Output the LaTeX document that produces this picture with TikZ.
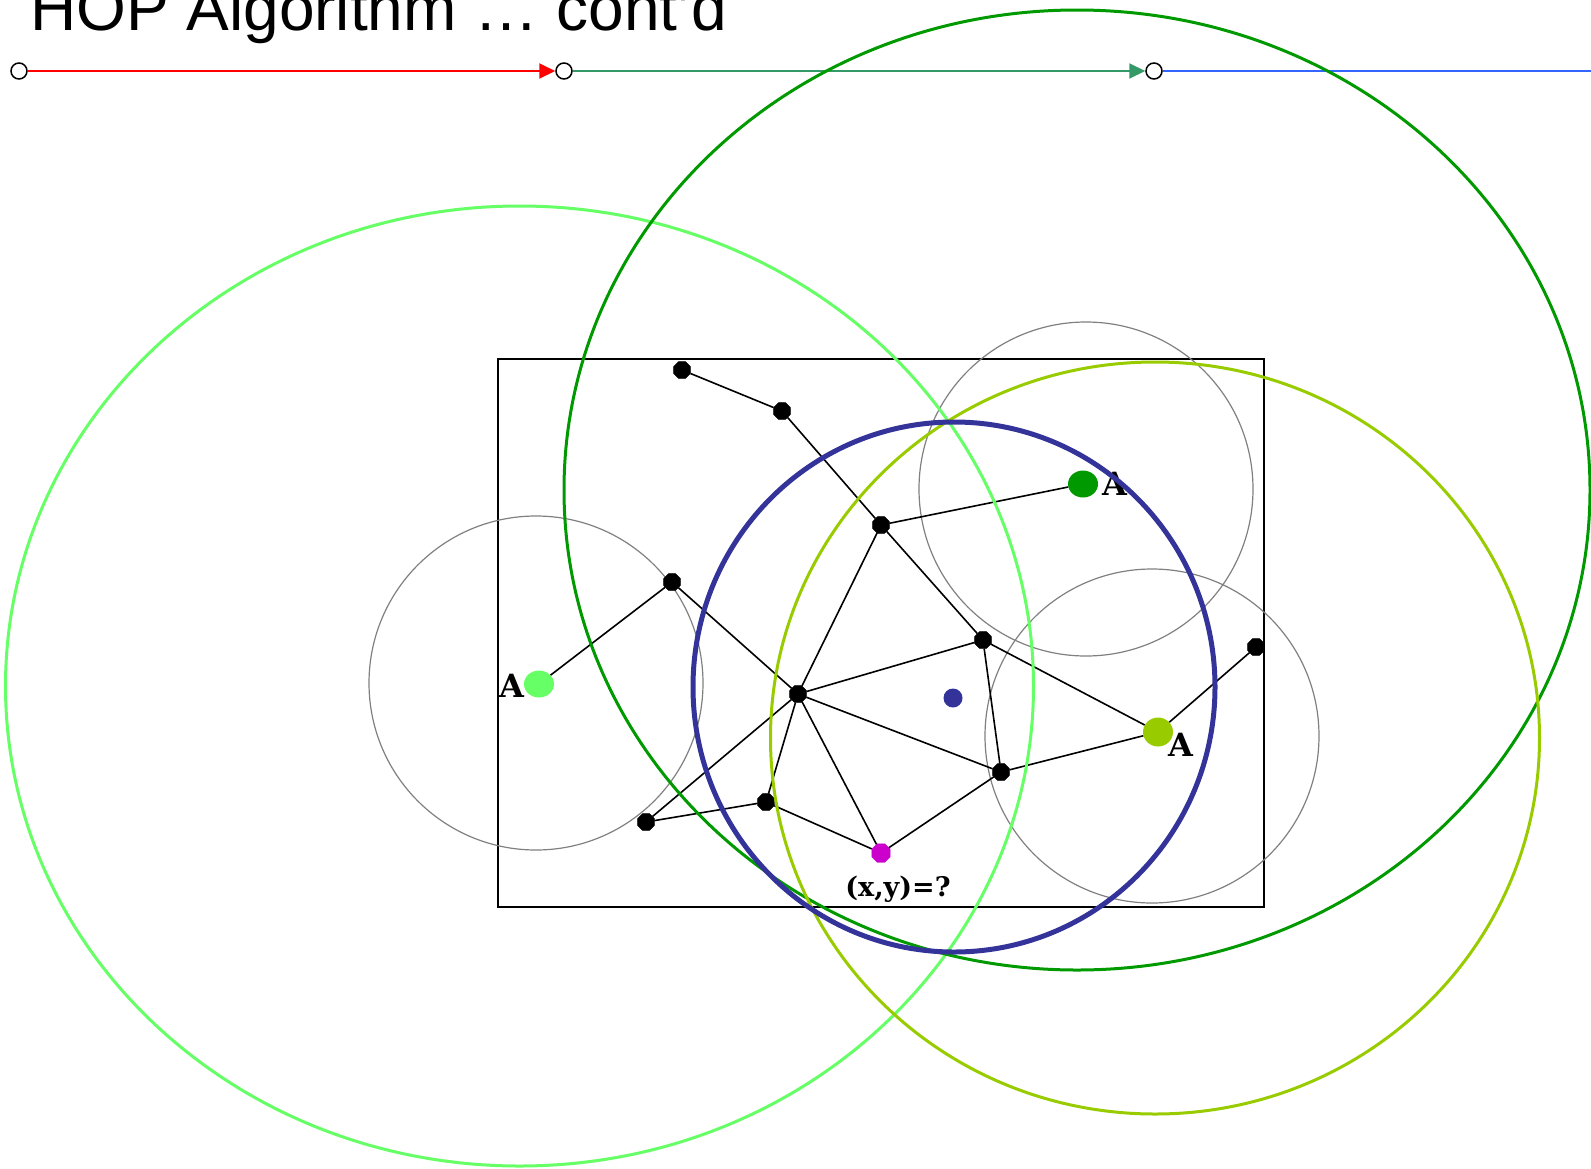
\documentclass[tikz,border=0pt]{standalone}
\usepackage{fontspec}
\setmainfont{Liberation Sans}
\newfontfamily\labelfont{DejaVu Serif}
\usetikzlibrary{arrows.meta,shapes.geometric}
\definecolor{hopred}{RGB}{255, 0, 0}
\definecolor{hopgreen}{RGB}{51, 153, 102}
\definecolor{hopblue}{RGB}{51, 102, 255}
\definecolor{lightgreen}{RGB}{102, 255, 102}
\definecolor{darkgreen}{RGB}{0, 153, 0}
\definecolor{limegreen}{RGB}{153, 204, 0}
\definecolor{navyblue}{RGB}{51, 51, 153}
\definecolor{hopmagenta}{RGB}{204, 0, 204}

\begin{document}
\begin{tikzpicture}[x=1pt, y=-1pt,
    stage/.style={draw, circle, fill=white, line width=1.5pt, minimum size=16pt, inner sep=0pt},
    sensor/.style={draw, fill=black, regular polygon, regular polygon sides=8, minimum size=18pt, inner sep=0pt},
    beacon/.style={ellipse, minimum width=30pt, minimum height=27pt, inner sep=0pt},
    lbl/.style={font=\labelfont\bfseries\fontsize{32pt}{32pt}\selectfont, inner sep=0pt},
    link/.style={line width=1.6pt},
    radioring/.style={draw=gray, line width=1.2pt}]
                    \useasboundingbox (0,0) rectangle (1591,1168);

                    \node[anchor=base west, inner sep=0pt, font=\fontsize{64pt}{64pt}\selectfont] (title) at (30,30.5) {HOP Algorithm … cont'd};

                    % stage line
                    \node[stage] (s1) at (19,71) {};
                    \node[stage] (s2) at (564,71) {};
                    \node[stage] (s3) at (1154,71) {};
                    \coordinate (lineend) at (1591,71);
                    \draw[hopred, line width=2pt, -{Triangle[length=16pt,width=15pt]}] (s1) -- (s2);
                    \draw[hopgreen, line width=2pt, -{Triangle[length=16pt,width=15pt]}] (s2) -- (s3);
                    \draw[hopblue, line width=2pt] (s3) -- (lineend);

                    % field
                    \draw[line width=1.5pt] (498,359) rectangle (1264,907);
                    \draw[radioring] (536,683) circle [radius=167pt];
                    \draw[radioring] (1086,489) circle [radius=167pt];
                    \draw[radioring] (1152,736) circle [radius=167pt];

                    \node[sensor] (n1) at (682,370) {};
                    \node[sensor] (n2) at (782,411) {};
                    \node[sensor] (n3) at (881,525) {};
                    \node[sensor] (n4) at (672,582) {};
                    \node[sensor] (n5) at (983,640) {};
                    \node[sensor] (n6) at (1256,647) {};
                    \node[sensor] (n7) at (798,694) {};
                    \node[sensor] (n8) at (1001,772) {};
                    \node[sensor] (n9) at (766,802) {};
                    \node[sensor] (n10) at (646,822) {};
                    \node[sensor, draw=hopmagenta, fill=hopmagenta, minimum size=20pt] (xy) at (881,853) {};
                    \node[beacon, fill=lightgreen] (A1) at (539,684) {};
                    \node[beacon, fill=darkgreen] (A2) at (1083,484) {};
                    \node[beacon, fill=limegreen, minimum height=29pt] (A3) at (1158,732) {};
                    \node[circle, fill=navyblue, minimum size=19pt, inner sep=0pt] (est) at (953,698) {};

                    \draw[link] (n1) -- (n2);
                    \draw[link] (n2) -- (n3);
                    \draw[link] (n3) -- (n5);
                    \draw[link] (n3) -- (A2);
                    \draw[link] (n3) -- (n7);
                    \draw[link] (A1) -- (n4);
                    \draw[link] (n4) -- (n7);
                    \draw[link] (n7) -- (n5);
                    \draw[link] (n7) -- (n8);
                    \draw[link] (n7) -- (n9);
                    \draw[link] (n7) -- (n10);
                    \draw[link] (n7) -- (xy);
                    \draw[link] (n5) -- (n8);
                    \draw[link] (n5) -- (A3);
                    \draw[link] (n8) -- (A3);
                    \draw[link] (A3) -- (n6);
                    \draw[link] (n8) -- (xy);
                    \draw[link] (n9) -- (n10);
                    \draw[link] (n9) -- (xy);

                    \node[lbl] (A1lbl) at (512,686) {A};
                    \node[lbl] (A2lbl) at (1115,484) {A};
                    \node[lbl] (A3lbl) at (1181,745) {A};
                    \node[lbl, font=\labelfont\bfseries\fontsize{27pt}{27pt}\selectfont] (xylbl) at (898,889) {(x,y)=?};

                    % hop ranges
                    \draw[lightgreen, line width=3pt] (519.5,686) ellipse [x radius=514pt, y radius=480pt];
                    \draw[darkgreen, line width=3pt] (1077,490) ellipse [x radius=513pt, y radius=480pt];
                    \draw[limegreen, line width=3pt] (1155,738) ellipse [x radius=384.5pt, y radius=376pt];
                    \draw[navyblue, line width=5pt] (954,687) ellipse [x radius=261pt, y radius=265pt];
                \end{tikzpicture}
\end{document}
